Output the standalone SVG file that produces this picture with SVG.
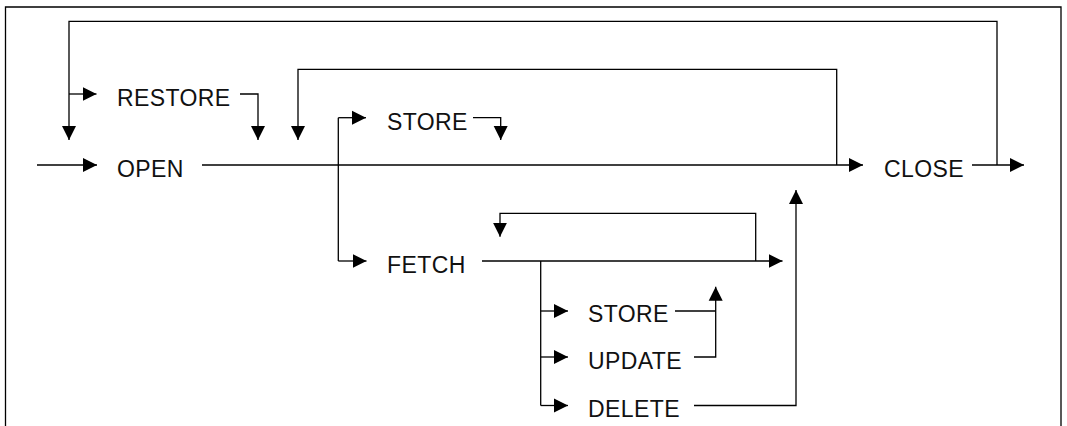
<svg xmlns="http://www.w3.org/2000/svg" width="1067" height="426" viewBox="0 0 1067 426">
<style>
  .ln { fill: none; stroke: #000; stroke-width: 1.3; }
  .arr { marker-end: url(#ah); }
  .t { font-family: "Liberation Sans", Arial, sans-serif; font-size: 23px; letter-spacing: 0.4px; fill: #111; }
</style>
<defs>
  <marker id="ah" markerUnits="userSpaceOnUse" markerWidth="15" markerHeight="15" refX="14" refY="7.5" orient="auto">
    <path d="M0,0.5 L14,7.5 L0,14.5 Z" fill="#000"/>
  </marker>
</defs>
<rect x="0" y="0" width="1067" height="426" fill="#fff"/>
<path class="ln" d="M5.5,426 V7 H1061 V426"/>
<g id="connectors">
  <path class="ln arr" d="M37,165 H97"/>
  <path class="ln arr" d="M202,165 H863"/>
  <path class="ln arr" d="M972,165 H1024"/>
  <path class="ln arr" d="M997,165 V21.3 H69 V140"/>
  <path class="ln arr" d="M69,94 H96.5"/>
  <path class="ln arr" d="M240,94 H258 V140"/>
  <path class="ln arr" d="M836.7,165 V69.3 H298 V140"/>
  <path class="ln" d="M338.3,117.7 V261"/>
  <path class="ln arr" d="M338.3,117.7 H366"/>
  <path class="ln arr" d="M473,117.7 H500.7 V140"/>
  <path class="ln arr" d="M338.3,261 H366.5"/>
  <path class="ln arr" d="M482,261 H782.5"/>
  <path class="ln arr" d="M755.7,261 V213.3 H500 V236.7"/>
  <path class="ln" d="M540.7,261 V405.5"/>
  <path class="ln arr" d="M540.7,311 H568"/>
  <path class="ln arr" d="M540.7,357 H568"/>
  <path class="ln arr" d="M540.7,405.5 H568"/>
  <path class="ln" d="M675,311 H715.7"/>
  <path class="ln arr" d="M694,357 H715.7 V286.7"/>
  <path class="ln arr" d="M694,405.5 H796 V190"/>
</g>
<g id="node-restore"><text class="t" x="117" y="106">RESTORE</text></g>
<g id="node-open"><text class="t" x="117" y="177">OPEN</text></g>
<g id="node-store1"><text class="t" x="387" y="130">STORE</text></g>
<g id="node-fetch"><text class="t" x="387" y="273">FETCH</text></g>
<g id="node-close"><text class="t" x="884" y="177">CLOSE</text></g>
<g id="node-store2"><text class="t" x="588" y="322">STORE</text></g>
<g id="node-update"><text class="t" x="588" y="368.5">UPDATE</text></g>
<g id="node-delete"><text class="t" x="588" y="416.5">DELETE</text></g>
</svg>
